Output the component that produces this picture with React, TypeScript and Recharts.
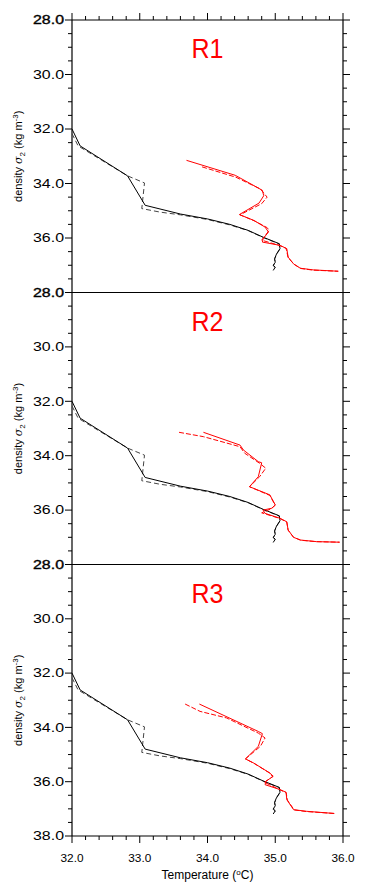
import React from 'react';
import { ScatterChart, Scatter, XAxis, YAxis, Label } from 'recharts';

// ---------- data (temperature °C, density sigma2) ----------
const panelNames = ['R1', 'R2', 'R3'];

const blackSolid = [
  [32.0, 32.0], [32.12, 32.62], [32.82, 33.72], [33.08, 34.8], [33.6, 35.12], [34.0, 35.3],
  [34.33, 35.5], [34.6, 35.72], [34.82, 35.97], [35.06, 36.21], [35.07, 36.39], [35.02, 36.58],
  [34.99, 36.76], [35.0, 36.89], [34.97, 37.0], [35.0, 37.07], [34.97, 37.19],
];
const blackDashed = [
  [32.0, 32.17], [32.09, 32.62], [32.82, 33.72], [33.07, 33.98], [33.05, 34.45], [33.03, 34.92],
  [33.3, 35.05], [33.6, 35.15], [34.0, 35.32], [34.33, 35.52], [34.6, 35.73], [34.82, 35.98],
  [35.06, 36.22], [35.07, 36.4], [35.02, 36.6], [34.99, 36.78], [35.0, 36.9], [34.97, 37.02],
  [35.0, 37.08], [34.98, 37.18],
];

const redSolidR1 = [
  [33.69, 33.15], [34.41, 33.7], [34.81, 34.25], [34.83, 34.45], [34.76, 34.72], [34.47, 35.14],
  [34.68, 35.35], [34.85, 35.6], [34.9, 35.78], [34.82, 36.03], [34.81, 36.15], [35.07, 36.27],
  [35.17, 36.39], [35.19, 36.7], [35.27, 36.95], [35.37, 37.11], [35.56, 37.17], [35.93, 37.22],
];
const redDashedR1 = [
  [33.92, 33.39], [34.42, 33.77], [34.78, 34.2], [34.88, 34.5], [34.8, 34.74], [34.48, 35.15],
  [34.7, 35.38], [34.88, 35.62], [34.91, 35.72], [34.8, 36.08], [35.07, 36.28], [35.16, 36.38],
  [35.19, 36.72], [35.28, 36.97], [35.38, 37.12], [35.56, 37.18], [35.93, 37.22],
];

const redSolidR2 = [
  [33.94, 33.14], [34.48, 33.61], [34.53, 33.79], [34.75, 34.22], [34.8, 34.26], [34.75, 34.77],
  [34.62, 35.14], [34.92, 35.44], [35.0, 35.81], [34.95, 35.93], [34.82, 36.0], [34.85, 36.12],
  [35.07, 36.3], [35.17, 36.43], [35.19, 36.73], [35.27, 37.0], [35.37, 37.1], [35.61, 37.16],
  [35.95, 37.18],
];
const redDashedR2 = [
  [33.58, 33.14], [33.94, 33.3], [34.48, 33.67], [34.55, 33.91], [34.77, 34.28], [34.86, 34.46],
  [34.77, 34.77], [34.62, 35.14], [34.92, 35.46], [35.0, 35.82], [34.94, 35.95], [34.8, 36.1],
  [35.07, 36.31], [35.17, 36.44], [35.19, 36.74], [35.27, 37.0], [35.38, 37.11], [35.61, 37.16],
  [35.95, 37.18],
];

const redSolidR3 = [
  [33.88, 33.14], [34.75, 34.15], [34.81, 34.23], [34.75, 34.7], [34.56, 35.16], [34.68, 35.31],
  [34.92, 35.68], [34.97, 35.8], [34.86, 35.99], [34.85, 36.11], [35.07, 36.29], [35.16, 36.39],
  [35.17, 36.66], [35.27, 37.03], [35.46, 37.09], [35.87, 37.17],
];
const redDashedR3 = [
  [33.67, 33.14], [33.89, 33.41], [34.28, 33.65], [34.75, 34.21], [34.85, 34.39], [34.78, 34.7],
  [34.56, 35.16], [34.69, 35.33], [34.93, 35.7], [34.96, 35.82], [34.84, 36.02], [35.07, 36.3],
  [35.16, 36.4], [35.18, 36.68], [35.28, 37.04], [35.46, 37.1], [35.87, 37.17],
];

const redSolid = [redSolidR1, redSolidR2, redSolidR3];
const redDashed = [redDashedR1, redDashedR2, redDashedR3];

const yTicks = [28, 28.5, 29, 29.5, 30, 30.5, 31, 31.5, 32, 32.5, 33, 33.5, 34, 34.5, 35, 35.5, 36, 36.5, 37, 37.5, 38];
const xTicks = [32, 32.2, 32.4, 32.6, 32.8, 33, 33.2, 33.4, 33.6, 33.8, 34, 34.2, 34.4, 34.6, 34.8, 35, 35.2, 35.4, 35.6, 35.8, 36];

// ---------- layout ----------
const W = 367;
const H = 894;
const PLOT_LEFT = 72;
const PLOT_RIGHT = 343;
const panelTops = [20, 292.5, 564.5];
const panelBottoms = [292.5, 564.5, 836];
const FONT = '"Liberation Sans", Arial, Helvetica, sans-serif';

const pts = (arr: number[][]) => arr.map(([t, s]) => ({ t, s }));
const isMajorY = (v: number) => Math.abs(v / 2 - Math.round(v / 2)) < 1e-6;
const isMajorX = (v: number) => Math.abs(v - Math.round(v)) < 1e-6;

const LeftTick = (props: any) => {
  const { x, y, payload, showLast } = props;
  const v = payload.value as number;
  const major = isMajorY(v);
  const showText = major && (v < 37.9 || showLast);
  return (
    <g>
      <line x1={x - (major ? 7 : 4)} x2={x} y1={y} y2={y} stroke="#000" strokeWidth={1} />
      {showText && (
        <text
          x={x - 8}
          y={y}
          dy="0.36em"
          textAnchor="end"
          fontSize={12}
          fontFamily={FONT}
          fill="#000"
          textLength={31}
          lengthAdjust="spacingAndGlyphs"
          stroke={v === 28 ? '#000' : 'none'}
          strokeWidth={v === 28 ? 0.35 : 0}
        >
          {v.toFixed(1)}
        </text>
      )}
    </g>
  );
};

const RightTick = (props: any) => {
  const { x, y, payload } = props;
  const major = isMajorY(payload.value);
  return <line x1={x} x2={x + (major ? 7 : 4)} y1={y} y2={y} stroke="#000" strokeWidth={1} />;
};

const BottomTick = (props: any) => {
  const { x, y, payload } = props;
  const v = payload.value as number;
  const major = isMajorX(v);
  return (
    <g>
      <line x1={x} x2={x} y1={y} y2={y + (major ? 7 : 4)} stroke="#000" strokeWidth={1} />
      {major && (
        <text x={x} y={y + 26} textAnchor="middle" fontSize={11} fontFamily={FONT} fill="#000" textLength={23} lengthAdjust="spacingAndGlyphs">
          {v.toFixed(1)}
        </text>
      )}
    </g>
  );
};

const TopTick = (props: any) => {
  const { x, y, payload } = props;
  const major = isMajorX(payload.value);
  return <line x1={x} x2={x} y1={y} y2={y - (major ? 7 : 4)} stroke="#000" strokeWidth={1} />;
};

const noShape = () => <g />;

function Panel({ idx }: { idx: number }) {
  const top = panelTops[idx];
  const bottom = panelBottoms[idx];
  const last = idx === panelNames.length - 1;
  const first = idx === 0;
  const cx = (PLOT_LEFT + PLOT_RIGHT) / 2;
  const cy = (top + bottom) / 2;
  return (
    <div style={{ position: 'absolute', left: 0, top: 0, width: W, height: H }}>
      <ScatterChart
        width={W}
        height={H}
        margin={{ top: top - 1, bottom: H - bottom - 1, left: PLOT_LEFT - 1, right: W - PLOT_RIGHT - 1 }}
      >
        <XAxis
          xAxisId="x"
          type="number"
          dataKey="t"
          domain={[32, 36]}
          allowDataOverflow
          orientation="bottom"
          height={1}
          ticks={xTicks}
          interval={0}
          tickSize={0}
          tickMargin={0}
          tickLine={false}
          tick={last ? (p: any) => <BottomTick {...p} /> : false}
          axisLine={{ stroke: '#000', strokeWidth: 1.2 }}
        >
          {last && (
            <Label
              content={() => (
                <text x={cx} y={bottom + 43} textAnchor="middle" fontSize={12} fontFamily={FONT} fill="#000">
                  Temperature (
                  <tspan dy={-4} fontSize={8}>o</tspan>
                  <tspan dy={4}>C)</tspan>
                </text>
              )}
            />
          )}
        </XAxis>
        <XAxis
          xAxisId="xt"
          type="number"
          dataKey="t"
          domain={[32, 36]}
          allowDataOverflow
          orientation="top"
          height={1}
          ticks={xTicks}
          interval={0}
          tickSize={0}
          tickMargin={0}
          tickLine={false}
          tick={first ? (p: any) => <TopTick {...p} /> : false}
          axisLine={{ stroke: '#000', strokeWidth: 1.2 }}
        >
          <Label
            content={() => (
              <text x={cx} y={top + 38} textAnchor="middle" fontSize={28} fontFamily={FONT} fill="#ff0000" textLength={32} lengthAdjust="spacingAndGlyphs">
                {panelNames[idx]}
              </text>
            )}
          />
        </XAxis>
        <YAxis
          yAxisId="y"
          type="number"
          dataKey="s"
          domain={[28, 38]}
          reversed
          allowDataOverflow
          orientation="left"
          width={1}
          ticks={yTicks}
          interval={0}
          tickSize={0}
          tickMargin={0}
          tickLine={false}
          tick={(p: any) => <LeftTick {...p} showLast={last} />}
          axisLine={{ stroke: '#000', strokeWidth: 1.2 }}
        >
          <Label
            content={() => (
              <text
                x={22}
                y={cy}
                transform={`rotate(-90 22 ${cy})`}
                textAnchor="middle"
                fontSize={11}
                fontFamily={FONT}
                fill="#000"
              >
                density{' '}
                <tspan fontStyle="italic" fontFamily="DejaVu Serif, serif">σ</tspan>
                <tspan dy={3} fontSize={8}>2</tspan>
                <tspan dy={-3}> (kg m</tspan>
                <tspan dy={-4} fontSize={8}>-3</tspan>
                <tspan dy={4}>)</tspan>
              </text>
            )}
          />
        </YAxis>
        <YAxis
          yAxisId="yr"
          type="number"
          dataKey="s"
          domain={[28, 38]}
          reversed
          allowDataOverflow
          orientation="right"
          width={1}
          ticks={yTicks}
          interval={0}
          tickSize={0}
          tickMargin={0}
          tickLine={false}
          tick={(p: any) => <RightTick {...p} />}
          axisLine={{ stroke: '#000', strokeWidth: 1.2 }}
        />
        <Scatter
          xAxisId="x"
          yAxisId="y"
          data={pts(blackDashed)}
          line={{ stroke: '#444', strokeWidth: 1, strokeDasharray: '5 3' }}
          shape={noShape}
          isAnimationActive={false}
        />
        <Scatter
          xAxisId="x"
          yAxisId="y"
          data={pts(blackSolid)}
          line={{ stroke: '#000', strokeWidth: 1 }}
          shape={noShape}
          isAnimationActive={false}
        />
        <Scatter
          xAxisId="x"
          yAxisId="y"
          data={pts(redDashed[idx])}
          line={{ stroke: '#ff0000', strokeWidth: 1, strokeDasharray: '5 2' }}
          shape={noShape}
          isAnimationActive={false}
        />
        <Scatter
          xAxisId="x"
          yAxisId="y"
          data={pts(redSolid[idx])}
          line={{ stroke: '#ff0000', strokeWidth: 1 }}
          shape={noShape}
          isAnimationActive={false}
        />
      </ScatterChart>
    </div>
  );
}

export default function App() {
  return (
    <div style={{ position: 'absolute', left: 0, top: 0, width: W, height: H, background: '#fff' }}>
      {panelNames.map((_, i) => (
        <Panel key={i} idx={i} />
      ))}
    </div>
  );
}
